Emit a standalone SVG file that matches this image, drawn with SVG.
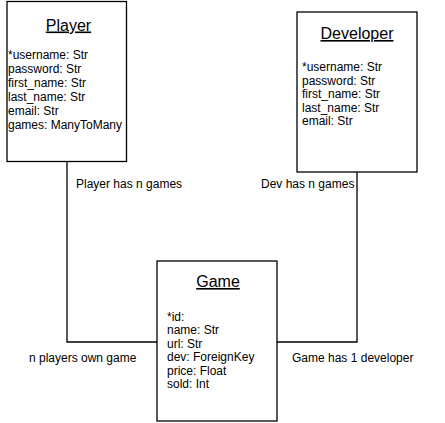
<svg xmlns="http://www.w3.org/2000/svg" width="445" height="423" viewBox="0 0 445 423">
<style>
.box{fill:#fff;stroke:#000;stroke-width:1.3}
.title{font-family:"Liberation Sans",Arial,sans-serif;font-size:16px;fill:#000;text-anchor:middle;text-decoration:underline}
.attr{font-family:"Liberation Sans",Arial,sans-serif;font-size:12px;fill:#000}
.lbl{font-family:"Liberation Sans",Arial,sans-serif;font-size:12px;fill:#000}
.conn{fill:none;stroke:#000;stroke-width:1.3}
</style>
<rect width="445" height="423" fill="#fff"/>
<g id="connectors">
<path class="conn" d="M67,162 V342 H157"/>
<path class="conn" d="M357,172 V342 H277"/>
<text class="lbl" x="76" y="188">Player has n games</text>
<text class="lbl" x="261" y="188">Dev has n games</text>
<text class="lbl" x="29" y="362">n players own game</text>
<text class="lbl" x="292" y="362">Game has 1 developer</text>
</g>
<g id="player">
<rect class="box" x="7" y="1.5" width="119.5" height="160"/>
<text class="title" x="68.5" y="30.5">Player</text>
<text class="attr" x="8" y="59">*username: Str</text>
<text class="attr" x="8" y="73">password: Str</text>
<text class="attr" x="8" y="87">first_name: Str</text>
<text class="attr" x="8" y="101">last_name: Str</text>
<text class="attr" x="8" y="115">email: Str</text>
<text class="attr" x="8" y="129">games: ManyToMany</text>
</g>
<g id="developer">
<rect class="box" x="297" y="12" width="120" height="160"/>
<text class="title" x="357" y="39">Developer</text>
<text class="attr" x="302" y="71">*username: Str</text>
<text class="attr" x="302" y="84.5">password: Str</text>
<text class="attr" x="302" y="98">first_name: Str</text>
<text class="attr" x="302" y="111.5">last_name: Str</text>
<text class="attr" x="302" y="125">email: Str</text>
</g>
<g id="game">
<rect class="box" x="157" y="261" width="120" height="160"/>
<text class="title" x="218" y="287">Game</text>
<text class="attr" x="167" y="320.5">*id:</text>
<text class="attr" x="167" y="334">name: Str</text>
<text class="attr" x="167" y="347.5">url: Str</text>
<text class="attr" x="167" y="361">dev: ForeignKey</text>
<text class="attr" x="167" y="374.5">price: Float</text>
<text class="attr" x="167" y="388">sold: Int</text>
</g>
</svg>
